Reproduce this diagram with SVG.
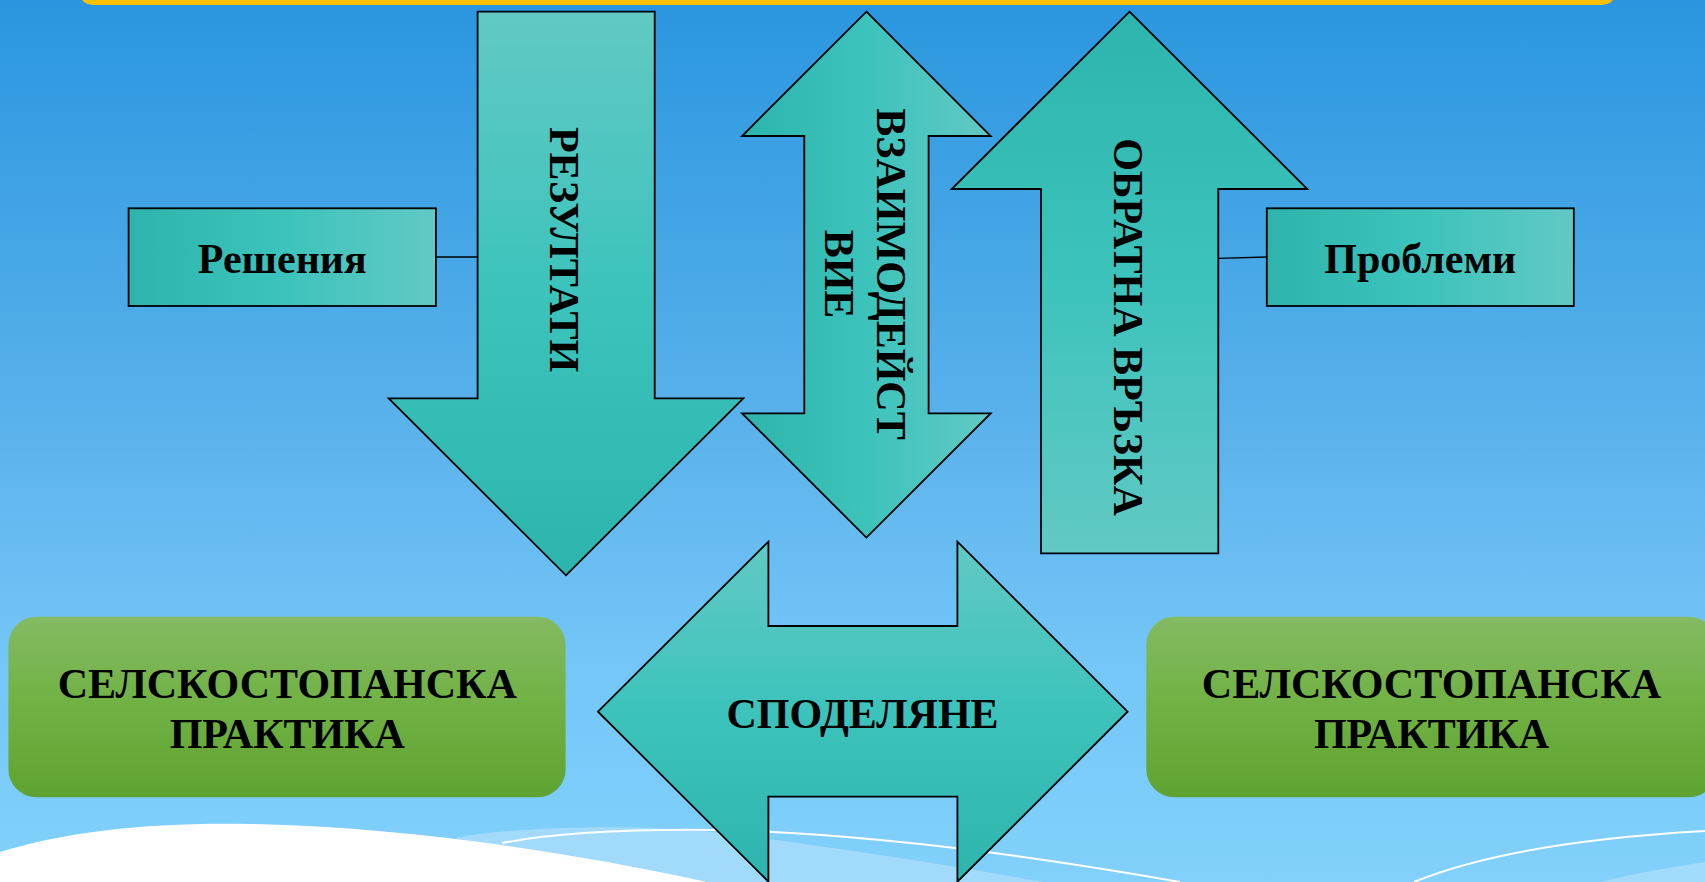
<svg xmlns="http://www.w3.org/2000/svg" width="1705" height="882" viewBox="0 0 1705 882">
  <defs>
    <linearGradient id="bg" x1="0" y1="0" x2="0" y2="1">
      <stop offset="0" stop-color="#2a96df"/>
      <stop offset="0.5" stop-color="#5cb3ec"/>
      <stop offset="0.75" stop-color="#74c6f8"/>
      <stop offset="1" stop-color="#82d1fc"/>
    </linearGradient>
    <linearGradient id="tealDown" x1="0" y1="0" x2="0" y2="1">
      <stop offset="0" stop-color="#62c9c3"/>
      <stop offset="0.5" stop-color="#3cc3bc"/>
      <stop offset="1" stop-color="#2db4ad"/>
    </linearGradient>
    <linearGradient id="tealUp" x1="0" y1="0" x2="0" y2="1">
      <stop offset="0" stop-color="#2db4ad"/>
      <stop offset="0.5" stop-color="#3cc3bc"/>
      <stop offset="1" stop-color="#62c9c3"/>
    </linearGradient>
    <linearGradient id="tealH" x1="0" y1="0" x2="1" y2="0">
      <stop offset="0" stop-color="#2db4ad"/>
      <stop offset="0.5" stop-color="#3cc3bc"/>
      <stop offset="1" stop-color="#62c9c3"/>
    </linearGradient>
    <linearGradient id="green" x1="0" y1="0" x2="0" y2="1">
      <stop offset="0" stop-color="#84ba63"/>
      <stop offset="0.5" stop-color="#70b143"/>
      <stop offset="1" stop-color="#5ea332"/>
    </linearGradient>
    <style>
      .shape { stroke: #000; stroke-width: 1.8; stroke-linejoin: miter; }
      .lbl { font-family: "Liberation Serif", "Times New Roman", serif; font-weight: bold; font-size: 42px; fill: #000; text-anchor: middle; }
      .conn { stroke: #000; stroke-width: 1.3; fill: none; }
      .wline { stroke: #ffffff; stroke-width: 2; fill: none; }
    </style>
  </defs>

  <!-- background -->
  <rect x="0" y="0" width="1705" height="882" fill="url(#bg)"/>
  <rect x="78" y="-30" width="1539" height="35" rx="15" fill="#ffc000"/>
  <path d="M457,837 C530,826 640,824 720,833 C820,845 930,862 1044,882 L457,882 Z" fill="#a2dafc"/>
  <path d="M1600,882 C1640,872 1680,866 1705,862 L1705,882 Z" fill="#a2dafc"/>
  <path class="wline" d="M502,843 C560,832 640,829 718,830 C850,833 1000,850 1180,882"/>
  <path class="wline" d="M1414,882 C1480,855 1580,838 1705,831"/>
  <path d="M0,852 C70,830 160,822 250,824 C400,827 560,850 707,882 L0,882 Z" fill="#ffffff"/>

  <!-- connectors -->
  <g id="connectors">
    <line class="conn" x1="436" y1="257" x2="477.6" y2="257"/>
    <line class="conn" x1="1218" y1="258.3" x2="1266.8" y2="257"/>
  </g>

  <g id="node-rezultati">
    <polygon class="shape" fill="url(#tealDown)" points="477.6,11.7 654.7,11.7 654.7,398.3 743.3,398.3 566,575.3 388.7,398.3 477.6,398.3"/>
    <text class="lbl" transform="translate(549.5,249.5) rotate(90)" x="0" y="0">РЕЗУЛТАТИ</text>
  </g>

  <g id="node-vzaimodeistvie">
    <polygon class="shape" fill="url(#tealH)" points="866.4,11.7 990.7,136 928.6,136 928.6,413.3 990.7,413.3 866.4,537.6 742.1,413.3 804.3,413.3 804.3,136 742.1,136"/>
    <text class="lbl" transform="translate(876.8,274) rotate(90)" x="0" y="0">ВЗАИМОДЕЙСТ</text>
    <text class="lbl" transform="translate(825,274) rotate(90)" x="0" y="0">ВИЕ</text>
  </g>

  <g id="node-obratna">
    <polygon class="shape" fill="url(#tealUp)" points="1129.5,11.7 1307.3,189 1218.3,189 1218.3,553.3 1041,553.3 1041,189 951.7,189"/>
    <text class="lbl" transform="translate(1113.8,327) rotate(90)" x="0" y="0">ОБРАТНА ВРЪЗКА</text>
  </g>

  <g id="node-resheniya">
    <rect class="shape" fill="url(#tealH)" x="128.6" y="208.3" width="307.3" height="97.7"/>
    <text class="lbl" x="282.3" y="272.7">Решения</text>
  </g>

  <g id="node-problemi">
    <rect class="shape" fill="url(#tealH)" x="1266.8" y="208.3" width="307" height="97.7"/>
    <text class="lbl" x="1420.3" y="273.3">Проблеми</text>
  </g>

  <g id="node-praktika-left">
    <rect fill="url(#green)" x="8.4" y="616.7" width="557.2" height="180.6" rx="28" ry="28"/>
    <text class="lbl" x="287.3" y="698.3">СЕЛСКОСТОПАНСКА</text>
    <text class="lbl" x="287.3" y="748.3">ПРАКТИКА</text>
  </g>

  <g id="node-praktika-right">
    <rect fill="url(#green)" x="1146.3" y="616.7" width="570.4" height="180.6" rx="28" ry="28"/>
    <text class="lbl" x="1431.5" y="698.3">СЕЛСКОСТОПАНСКА</text>
    <text class="lbl" x="1431.5" y="748.3">ПРАКТИКА</text>
  </g>

  <g id="node-spodelyane">
    <polygon class="shape" fill="url(#tealDown)" points="598,711.7 768.4,541.7 768.4,626 957.4,626 957.4,541.7 1127.6,711.7 957.4,881.7 957.4,796.7 768.4,796.7 768.4,881.7"/>
    <text class="lbl" x="862.5" y="727.7">СПОДЕЛЯНЕ</text>
  </g>
</svg>
